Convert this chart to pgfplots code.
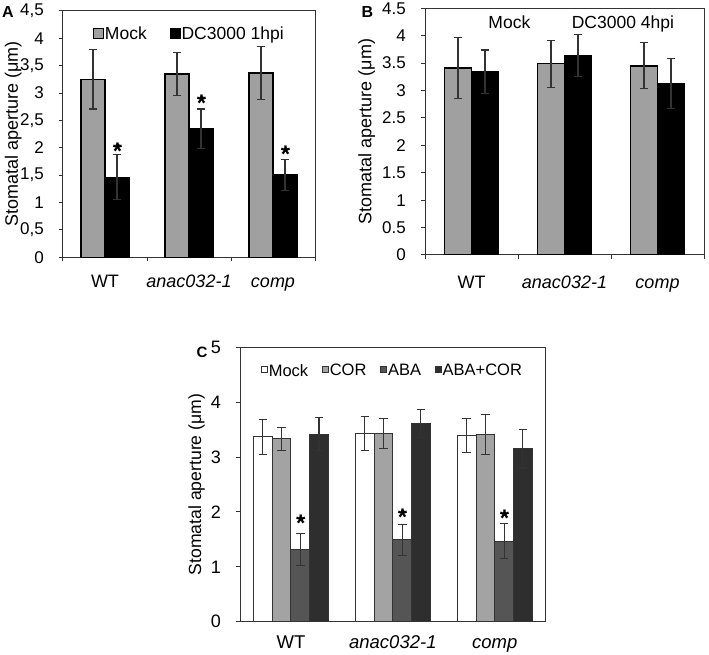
\documentclass[border=0pt]{standalone}
\usepackage{fontspec}
\setmainfont{Liberation Sans}
\usepackage{pgfplots}
\pgfplotsset{compat=1.18}
\definecolor{gA}{HTML}{A0A0A0}
\definecolor{cCOR}{HTML}{A3A3A3}
\definecolor{cABA}{HTML}{555555}
\definecolor{cAC}{HTML}{2E2E2E}
\definecolor{axc}{HTML}{333333}
\newcommand\fs[1]{\fontsize{#1}{#1}\selectfont}
\pgfplotsset{
  panel/.style={
    scale only axis, enlargelimits=false,
    xmin=-0.5, xmax=2.5, ymin=0,
    /pgf/number format/assume math mode=true,
    axis line style={draw=axc, line width=1pt},
    every tick/.style={draw=axc, line width=1pt},
    tick align=outside, major tick length=4pt,
    xtick pos=bottom, ytick pos=left,
    extra x ticks={0,1,2},
    extra x tick labels={WT,\textit{anac032-1},\textit{comp}},
    extra x tick style={major tick length=0pt},
    yticklabel style={anchor=east, inner sep=0pt, xshift=-15pt},
    legend cell align=left,
  },
  eb/.style={error bars/.cd, y dir=both, y explicit,
    error bar style={line width=1.1pt, draw=axc},
    error mark options={rotate=90, mark size=4.3pt, line width=1.1pt, draw=axc}},
  star/.style={only marks, mark=*, mark options={draw=none, fill=none}, forget plot,
    nodes near coords={\bfseries *},
    every node near coord/.append style={font=\fs{#1}, inner sep=0pt, yshift=-0.565*#1pt}},
  legA/.style={legend image code/.code={\draw[##1, line width=0.8pt] (0pt,-5pt) rectangle (10pt,5pt);}},
  legB/.style={legend image code/.code={\path (0pt,-5pt) rectangle (10pt,5pt);},
    legend image post style={draw=none, fill=none, opacity=0}},
  legC/.style={legend image code/.code={\draw[##1, line width=0.6pt] (0pt,-1pt) rectangle (6pt,5pt);}},
}
\begin{document}
\begin{tikzpicture}
\path[use as bounding box] (0pt,0pt) rectangle (709pt,654pt);
\node[font=\bfseries\fs{16}] at (8pt,641.5pt) {A};
\node[font=\bfseries\fs{16}] at (367.5pt,641.5pt) {B};
\node[font=\bfseries\fs{15}] at (202pt,301.5pt) {C};

% ---------- A ----------
\begin{axis}[panel,
  at={(63pt,396.7pt)}, anchor=south west, width=252pt, height=246.3pt,
  ymax=4.5, ytick={0,0.5,1,1.5,2,2.5,3,3.5,4,4.5},
  xtick={-0.5,0.5,1.5,2.5}, xticklabels={},
  yticklabel style={font=\fs{17}, /pgf/number format/.cd, use comma, fixed, precision=1},
  xticklabel style={font=\fs{18}, anchor=north, inner sep=0pt, text height=12.9pt, text depth=3.7pt, yshift=-16.7pt},
  ylabel={Stomatal aperture (μm)},
  every axis y label/.style={at={(axis description cs:-0.198,0.5)}, rotate=90, anchor=center, font=\fs{18}},
  legend style={at={(axis description cs:0.119,0.909)}, anchor=west, draw=none, fill=none,
    inner sep=0pt, font=\fs{17.5}, legend columns=2,
    nodes={inner sep=1pt},
    /tikz/every even column/.append style={column sep=22pt}},
]
\addplot[ybar, bar width=24pt, bar shift=0pt, fill=gA, draw=black, line width=1.5pt, legA, eb]
  coordinates {(-0.1429,3.25) +- (0,0.54) (0.8571,3.35) +- (0,0.39) (1.8571,3.37) +- (0,0.48)};
\addlegendentry{Mock}
\addplot[ybar, bar width=24pt, bar shift=0pt, fill=black, draw=black, line width=1.5pt, legA, eb]
  coordinates {(0.1429,1.46) +- (0,0.41) (1.1429,2.35) +- (0,0.36) (2.1429,1.50) +- (0,0.28)};
\addlegendentry{DC3000 1hpi}
\addplot[star=24] coordinates {(0.15,2.04) (1.15,2.91) (2.15,1.97)};
\end{axis}

% ---------- B ----------
\begin{axis}[panel,
  at={(425pt,399pt)}, anchor=south west, width=279pt, height=246.7pt,
  ymax=4.5, ytick={0,0.5,1,1.5,2,2.5,3,3.5,4,4.5},
  xtick={-0.5,0.5,1.5,2.5}, xticklabels={},
  yticklabel style={font=\fs{17}, /pgf/number format/.cd, fixed, precision=1},
  xticklabel style={font=\fs{18}, anchor=north, inner sep=0pt, text height=12.9pt, text depth=3.7pt, yshift=-20pt},
  ylabel={Stomatal aperture (μm)},
  every axis y label/.style={at={(axis description cs:-0.209,0.5)}, rotate=90, anchor=center, font=\fs{18}},
  legend style={at={(axis description cs:0.182,0.941)}, anchor=west, draw=none, fill=none,
    inner sep=0pt, font=\fs{17.5}, legend columns=2,
    nodes={inner sep=1pt},
    /tikz/every even column/.append style={column sep=28pt}},
]
\addplot[ybar, bar width=27pt, bar shift=0pt, fill=gA, draw=black, line width=1.5pt, legB, eb]
  coordinates {(-0.1452,3.41) +- (0,0.55) (0.8548,3.49) +- (0,0.43) (1.8548,3.45) +- (0,0.42)};
\addlegendentry{Mock}
\addplot[ybar, bar width=27pt, bar shift=0pt, fill=black, draw=black, line width=1.5pt, legB, eb]
  coordinates {(0.1452,3.34) +- (0,0.40) (1.1452,3.64) +- (0,0.38) (2.1452,3.13) +- (0,0.46)};
\addlegendentry{DC3000 4hpi}
\end{axis}

% ---------- C ----------
\begin{axis}[panel,
  at={(240pt,32.3pt)}, anchor=south west, width=305.7pt, height=274.4pt,
  ymax=5, ytick={0,1,2,3,4,5},
  xtick=\empty,
  yticklabel style={font=\fs{18}},
  xticklabel style={font=\fs{18.5}, anchor=north, inner sep=0pt, text height=13.3pt, text depth=3.8pt, yshift=-13.3pt},
  ylabel={Stomatal aperture (μm)},
  every axis y label/.style={at={(axis description cs:-0.142,0.5)}, rotate=90, anchor=center, font=\fs{17.6}},
  legend style={at={(axis description cs:0.0686,0.914)}, anchor=west, draw=none, fill=none,
    inner sep=0pt, font=\fs{16.5}, legend columns=4,
    nodes={inner sep=1pt},
    /tikz/every even column/.append style={column sep=13pt}},
]
\addplot[ybar, bar width=18.7pt, bar shift=0pt, fill=white, draw=axc, line width=1pt, legC, eb]
  coordinates {(-0.2753,3.37) +- (0,0.32) (0.7247,3.43) +- (0,0.31) (1.7247,3.40) +- (0,0.31)};
\addlegendentry{Mock}
\addplot[ybar, bar width=18.7pt, bar shift=0pt, fill=cCOR, draw=axc, line width=1pt, legC, eb]
  coordinates {(-0.0918,3.33) +- (0,0.21) (0.9082,3.43) +- (0,0.28) (1.9082,3.41) +- (0,0.37)};
\addlegendentry{COR}
\addplot[ybar, bar width=18.7pt, bar shift=0pt, fill=cABA, draw=axc, line width=1pt, legC, eb]
  coordinates {(0.0918,1.32) +- (0,0.29) (1.0918,1.49) +- (0,0.28) (2.0918,1.47) +- (0,0.32)};
\addlegendentry{ABA}
\addplot[ybar, bar width=18.7pt, bar shift=0pt, fill=cAC, draw=axc, line width=1pt, legC, eb]
  coordinates {(0.2753,3.42) +- (0,0.30) (1.2753,3.61) +- (0,0.26) (2.2753,3.15) +- (0,0.35)};
\addlegendentry{ABA+COR}
\addplot[star=24] coordinates {(0.096,1.88) (1.096,2.00) (2.096,1.97)};
\end{axis}
\end{tikzpicture}
\end{document}
